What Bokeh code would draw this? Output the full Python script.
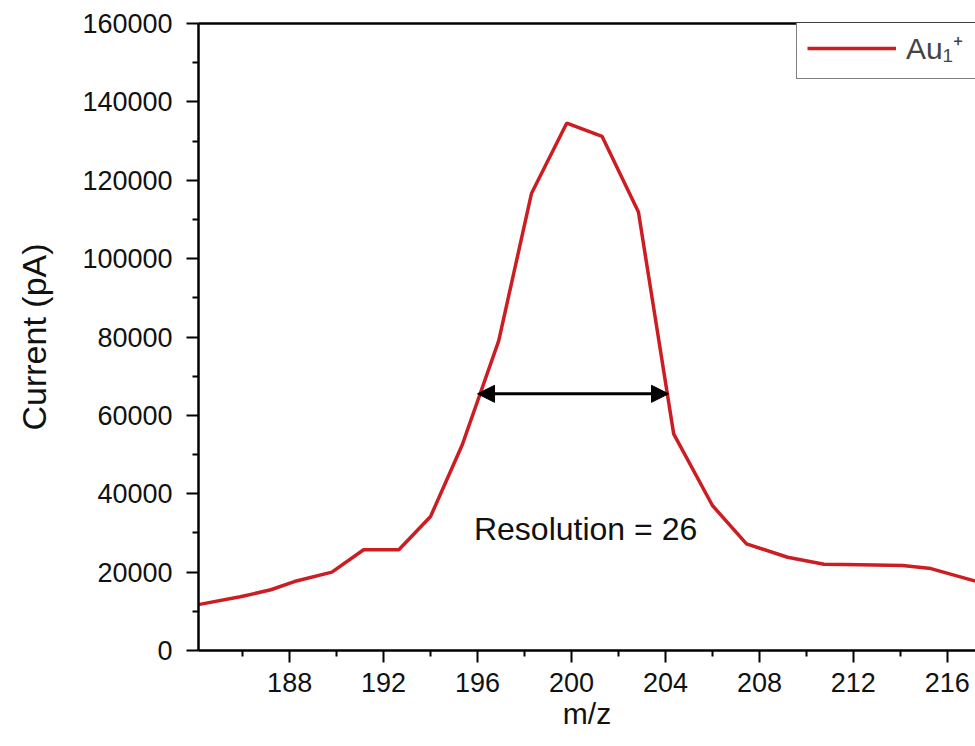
from bokeh.plotting import figure
from bokeh.models import (LinearAxis, FixedTicker, Arrow, NormalHead, Label,
                          Legend, LegendItem, Range1d)
from bokeh.embed import file_html
from bokeh.resources import INLINE

# ---- data ----
mz = [184.1, 185.9, 187.2, 188.2, 189.8, 191.15, 192.65, 194.0, 195.35,
      196.9, 198.3, 199.8, 201.3, 202.85, 204.35, 206.0, 207.45, 209.2,
      210.75, 212.3, 214.1, 215.3, 217.2]
current = [11700, 13700, 15500, 17600, 20000, 25700, 25700, 34200, 52500,
           79000, 116700, 134600, 131200, 111900, 55300, 37000, 27200, 23800,
           22000, 21900, 21700, 20900, 17700]

x_ticks = [188, 192, 196, 200, 204, 208, 212, 216]
x_minor = [186, 190, 194, 198, 202, 206, 210, 214, 218]
y_ticks = [0, 20000, 40000, 60000, 80000, 100000, 120000, 140000, 160000]
y_minor = [10000, 30000, 50000, 70000, 90000, 110000, 130000, 150000]

x_min, x_max = 184.12, 217.2
y_min, y_max = 0, 160000

# FWHM arrow and annotation
fwhm_left, fwhm_right, half_max = 196.0, 204.13, 65500
res_text = "Resolution = 26"
res_x, res_y = 200.6, 31100

series_label = "Au\u2081\u207a"
FONT = "Liberation Sans"
RED = "#cc1d23"

p = figure(width=975, height=746, output_backend="svg", toolbar_location=None,
           x_range=Range1d(x_min, x_max), y_range=Range1d(y_min, y_max),
           x_axis_location=None, y_axis_location=None,
           min_border_left=198, min_border_right=0,
           min_border_top=23, min_border_bottom=96)
p.xgrid.visible = False
p.ygrid.visible = False
p.outline_line_color = None
p.background_fill_color = "white"
p.border_fill_color = "white"


def style_axis(ax):
    ax.axis_line_width = 2.5
    ax.axis_line_color = "black"
    ax.major_tick_line_width = 2
    ax.minor_tick_line_width = 2
    ax.major_tick_in = 0
    ax.minor_tick_in = 0
    ax.major_tick_out = 12
    ax.minor_tick_out = 6
    ax.major_label_text_font = FONT
    ax.major_label_text_font_size = "27px"
    ax.major_label_text_color = "#111111"
    ax.axis_label_text_font = FONT
    ax.axis_label_text_font_size = "30px"
    ax.axis_label_text_font_style = "normal"
    ax.axis_label_text_color = "#111111"


xaxis = LinearAxis(ticker=FixedTicker(ticks=x_ticks, minor_ticks=x_minor),
                   axis_label="m/z")
style_axis(xaxis)
xaxis.major_label_standoff = 10
xaxis.axis_label_standoff = 2
p.add_layout(xaxis, "below")

yaxis = LinearAxis(ticker=FixedTicker(ticks=y_ticks, minor_ticks=y_minor),
                   axis_label="Current (pA)")
style_axis(yaxis)
yaxis.axis_label_text_font_size = "34px"
yaxis.formatter.use_scientific = False
yaxis.major_label_standoff = 14
yaxis.axis_label_standoff = 26
p.add_layout(yaxis, "left")

top = LinearAxis(ticker=FixedTicker(ticks=[]), major_tick_out=0,
                 minor_tick_out=0, major_label_text_font_size="0px",
                 major_label_standoff=0, axis_line_width=2.5)
p.add_layout(top, "above")

r = p.line(mz, current, line_color=RED, line_width=3.5)

p.add_layout(Arrow(start=NormalHead(size=17, fill_color="black", line_color="black"),
                   end=NormalHead(size=17, fill_color="black", line_color="black"),
                   x_start=fwhm_left, y_start=half_max,
                   x_end=fwhm_right, y_end=half_max,
                   line_width=3, line_color="black"))

p.add_layout(Label(x=res_x, y=res_y, text=res_text, text_align="center",
                   text_baseline="middle", text_font=FONT,
                   text_font_size="32px", text_color="#111111"))

# legend box: left edge 598 px right of the frame's left edge, bottom edge
# chosen so that its top meets the frame's top line; it runs off the right
legend = Legend(items=[LegendItem(label=series_label, renderers=[r])],
                location=(598, 571), border_line_color="black",
                border_line_width=1.5, padding=10, glyph_width=89,
                label_standoff=10, label_width=200, label_text_font=FONT,
                label_text_font_size="30px", background_fill_color="white",
                background_fill_alpha=1.0, margin=0)
p.add_layout(legend, "center")

open("out.html", "w").write(file_html(p, INLINE))
